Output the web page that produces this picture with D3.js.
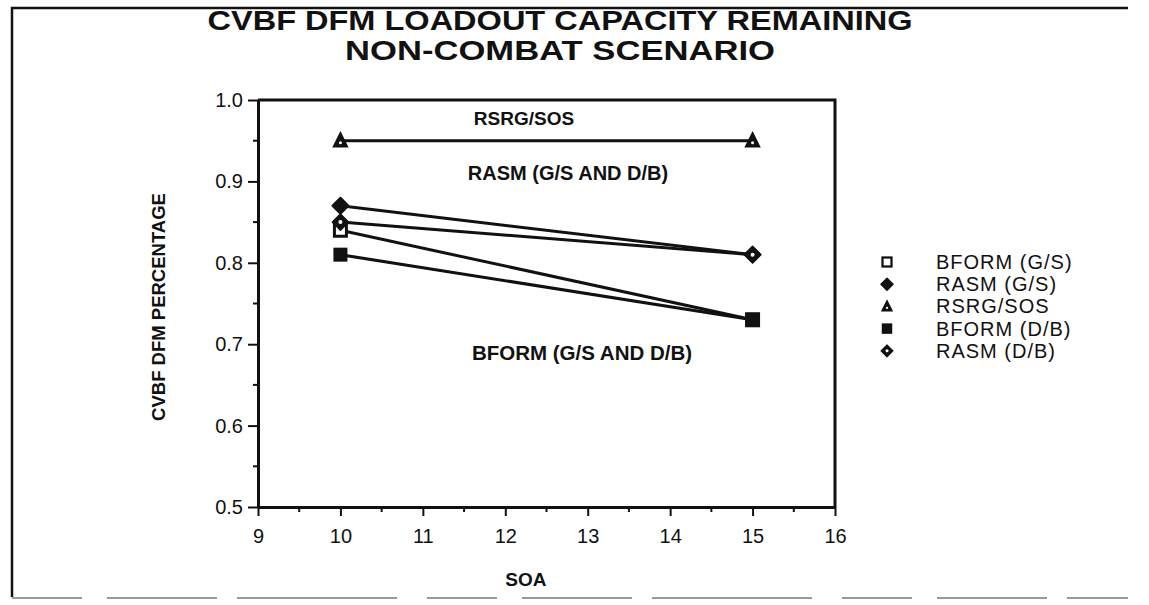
<!DOCTYPE html>
<meta charset="utf-8">
<style>
body { margin: 0; background: #fff; }
svg text { font-family: "Liberation Sans", Arial, sans-serif; fill: #111; }
.series { fill: none; stroke: #111; stroke-width: 3; }
</style>
<div id="chart"></div>
<script src="https://d3js.org/d3.v7.min.js"></script>
<script>

// data
var soa = [10, 15];
var seriesNames = ["BFORM (G/S)", "RASM (G/S)", "RSRG/SOS", "BFORM (D/B)", "RASM (D/B)"];
var bformGS = [0.84, 0.73];
var rasmGS = [0.87, 0.81];
var rsrgSos = [0.95, 0.95];
var bformDB = [0.81, 0.73];
var rasmDB = [0.85, 0.81];
var xTicks = [9, 10, 11, 12, 13, 14, 15, 16];
var yTicks = [0.5, 0.6, 0.7, 0.8, 0.9, 1.0];

var width = 1149, height = 605;
var svg = d3.select("#chart").append("svg")
    .attr("width", width).attr("height", height);

// outer frame of the scanned page
svg.append("path").attr("d", "M12,597 L12,8 L1128,8")
    .attr("fill", "none").attr("stroke", "#111").attr("stroke-width", 2.5);
svg.append("line").attr("x1", 12).attr("x2", 1128).attr("y1", 598).attr("y2", 598)
    .attr("stroke", "#999").attr("stroke-width", 2).attr("stroke-dasharray", "70,25,110,20,160,30");

var x = d3.scaleLinear().domain([9, 16]).range([258, 835]);
var y = d3.scaleLinear().domain([0.5, 1.0]).range([507, 100]);

// title
svg.append("text").attr("x", 560).attr("y", 30).attr("text-anchor", "middle")
    .attr("textLength", 705).attr("lengthAdjust", "spacingAndGlyphs")
    .style("font-size", "27px").style("font-weight", "bold")
    .text("CVBF DFM LOADOUT CAPACITY REMAINING");
svg.append("text").attr("x", 560).attr("y", 60).attr("text-anchor", "middle")
    .attr("textLength", 430).attr("lengthAdjust", "spacingAndGlyphs")
    .style("font-size", "27px").style("font-weight", "bold")
    .text("NON-COMBAT SCENARIO");

// plot box: top and right edges
svg.append("path").attr("d", "M" + x(9) + "," + y(1) + " L" + x(16) + "," + y(1) + " L" + x(16) + "," + y(0.5))
    .attr("fill", "none").attr("stroke", "#111").attr("stroke-width", 3);

// minor ticks
svg.append("g").selectAll("line").data(d3.range(9.5, 16, 1)).enter().append("line")
    .attr("x1", function(d) { return x(d); }).attr("x2", function(d) { return x(d); })
    .attr("y1", y(0.5)).attr("y2", y(0.5) + 5)
    .attr("stroke", "#111").attr("stroke-width", 2);
svg.append("g").selectAll("line").data(d3.range(0.55, 1.0, 0.1)).enter().append("line")
    .attr("x1", x(9) - 5).attr("x2", x(9))
    .attr("y1", function(d) { return y(d); }).attr("y2", function(d) { return y(d); })
    .attr("stroke", "#111").attr("stroke-width", 2);

var xAxis = svg.append("g")
    .attr("transform", "translate(0," + y(0.5) + ")")
    .call(d3.axisBottom(x).tickValues(xTicks).tickFormat(d3.format("d")).tickSize(9).tickSizeOuter(0).tickPadding(13));
var yAxis = svg.append("g")
    .attr("transform", "translate(" + x(9) + ",0)")
    .call(d3.axisLeft(y).tickValues(yTicks).tickFormat(d3.format(".1f")).tickSize(10).tickSizeOuter(0).tickPadding(5));
[xAxis, yAxis].forEach(function(a) {
  a.select(".domain").attr("stroke", "#111").attr("stroke-width", 3);
  a.selectAll(".tick line").attr("stroke", "#111").attr("stroke-width", 2);
  a.selectAll(".tick text").style("font-size", "20px").style("font-family", "Liberation Sans, Arial, sans-serif").attr("fill", "#111");
});

// axis titles
svg.append("text").attr("x", x(12.25)).attr("y", 586).attr("text-anchor", "middle")
    .style("font-size", "19px").style("font-weight", "bold").text("SOA");
svg.append("text").attr("transform", "translate(165,307) rotate(-90)").attr("text-anchor", "middle")
    .style("font-size", "18.5px").style("font-weight", "bold").text("CVBF DFM PERCENTAGE");

// lines
var series = [bformGS, rasmGS, rsrgSos, bformDB, rasmDB];
var line = d3.line()
    .x(function(d, i) { return x(soa[i]); })
    .y(function(d) { return y(d); });
svg.append("g").selectAll("path").data(series).enter().append("path")
    .attr("class", "series").attr("d", line);

// marker shapes
function marker(g, k) {
  if (k === 0) {
    g.append("rect").attr("x", -6).attr("y", -6).attr("width", 12).attr("height", 12)
      .attr("fill", "#fff").attr("stroke", "#111").attr("stroke-width", 3);
  } else if (k === 1) {
    g.append("path").attr("d", "M0,-8 L8,0 L0,8 L-8,0 Z").attr("fill", "#111")
      .attr("stroke", "#111").attr("stroke-width", 2).attr("stroke-linejoin", "round");
  } else if (k === 2) {
    g.append("path").attr("d", "M0,-8 L7,6 L-7,6 Z").attr("fill", "#111").attr("stroke", "#111").attr("stroke-width", 1.5);
    g.append("circle").attr("cx", 0).attr("cy", 2).attr("r", 1.5).attr("fill", "#fff");
  } else if (k === 3) {
    g.append("rect").attr("x", -7).attr("y", -7).attr("width", 14).attr("height", 14).attr("fill", "#111");
  } else {
    g.append("path").attr("d", "M0,-8 L8,0 L0,8 L-8,0 Z").attr("fill", "#111")
      .attr("stroke", "#111").attr("stroke-width", 1.5).attr("stroke-linejoin", "round");
    g.append("circle").attr("r", 2).attr("fill", "#fff");
  }
}

series.forEach(function(s, k) {
  s.forEach(function(v, i) {
    var g = svg.append("g").attr("transform", "translate(" + x(soa[i]) + "," + y(v) + ")");
    marker(g, k);
  });
});

// annotations
svg.append("text").attr("x", 524).attr("y", 125).attr("text-anchor", "middle")
    .style("font-size", "19px").style("font-weight", "bold").text("RSRG/SOS");
svg.append("text").attr("x", 568).attr("y", 180).attr("text-anchor", "middle")
    .style("font-size", "20px").style("font-weight", "bold").text("RASM (G/S AND D/B)");
svg.append("text").attr("x", 582).attr("y", 360).attr("text-anchor", "middle")
    .style("font-size", "20.5px").style("font-weight", "bold").text("BFORM (G/S AND D/B)");

// legend
var legend = svg.append("g").selectAll("g").data(seriesNames).enter().append("g")
    .attr("transform", function(d, i) { return "translate(887," + (262 + i * 22.2) + ")"; });
legend.each(function(d, i) {
  var g = d3.select(this).append("g").attr("transform", "scale(0.75)");
  marker(g, i);
});
legend.append("text").attr("x", 49).attr("y", 7).style("font-size", "20px")
    .style("letter-spacing", "1px").text(function(d) { return d; });

</script>
